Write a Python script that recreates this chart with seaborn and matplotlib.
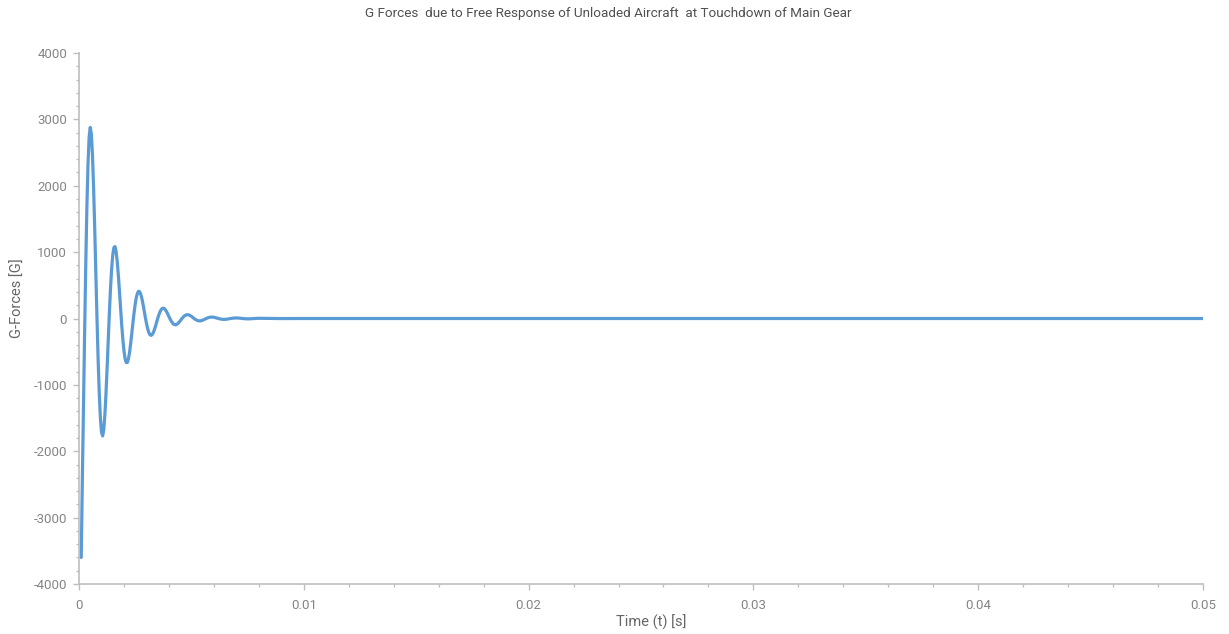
import numpy as np
import pandas as pd
import matplotlib
matplotlib.use("Agg")
import matplotlib.pyplot as plt
from matplotlib.ticker import MultipleLocator, FuncFormatter
import seaborn as sns

# Sample times [s]: a fine grid through the main oscillations, coarser afterwards
t_fine = np.round(np.linspace(0.0001, 0.0040, 79), 6)
t_mid = np.round(np.linspace(0.0041, 0.0080, 40), 6)
t_tail = [0.009, 0.01, 0.02, 0.03, 0.04, 0.05]

# G forces at those times
g_fine = [-3600, -2400, -1319, -222, 799, 1666, 2322, 2730, 2879, 2778,
          2457, 1962, 1348, 675, 5, -607, -1117, -1491, -1711, -1770,
          -1679, -1458, -1136, -748, -331, 76, 442, 741, 952, 1067,
          1085, 1012, 861, 653, 409, 153, -95, -313, -486, -605,
          -664, -663, -607, -507, -373, -220, -62, 87, 216, 317,
          382, 411, 403, 363, 297, 211, 116, 19, -71, -147,
          -205, -241, -254, -245, -216, -173, -119, -59, 0, 54,
          98, 131, 151, 156, 148, 128, 100, 66, 29]
g_mid = [-39, -84, -96, -76, -36, 8, 43, 58, 53, 33,
         5, -19, -34, -36, -26, -10, 6, 18, 22, 19,
         10, 0, -9, -13, -13, -9, -3, 3, 7, 8,
         7, 3, -1, -4, -5, -5, -3, 0, 2, 3]
g_tail = [-1, 0, 0, 0, 0, 0]

x_ticks = [0, 0.01, 0.02, 0.03, 0.04, 0.05]
y_ticks = [-4000, -3000, -2000, -1000, 0, 1000, 2000, 3000, 4000]

title = "G Forces  due to Free Response of Unloaded Aircraft  at Touchdown of Main Gear"
x_label = "Time (t) [s]"
y_label = "G-Forces [G]"

df = pd.DataFrame({
    "time": np.concatenate([t_fine, t_mid, t_tail]),
    "g": np.concatenate([g_fine, g_mid, g_tail]),
})

sns.set_theme(style="ticks")
plt.rcParams["font.family"] = ["Roboto", "DejaVu Sans"]
plt.rcParams["axes.unicode_minus"] = False

W, H = 1229, 634
fig = plt.figure(figsize=(W / 100, H / 100), dpi=100)
ax = fig.add_axes([79 / W, 1 - 584 / H, (1203 - 79) / W, (584 - 53) / H])

line_color = "#5B9BD5"
tick_gray = "#858585"
label_gray = "#666666"
axis_gray = "#bdbdbd"

sns.lineplot(data=df, x="time", y="g", ax=ax, color=line_color,
             linewidth=2.3, sort=False, estimator=None)

ax.set_xlim(0, 0.05)
ax.set_ylim(-4000, 4000)
ax.set_xticks(x_ticks)
ax.set_yticks(y_ticks)
ax.xaxis.set_minor_locator(MultipleLocator(0.002))
ax.yaxis.set_minor_locator(MultipleLocator(200))
fmt = FuncFormatter(lambda v, _: f"{v:g}")
ax.xaxis.set_major_formatter(fmt)
ax.yaxis.set_major_formatter(fmt)

for side in ("top", "right"):
    ax.spines[side].set_visible(False)
for side in ("left", "bottom"):
    ax.spines[side].set_color(axis_gray)
    ax.spines[side].set_linewidth(1.2)

ax.tick_params(axis="both", which="major", length=4.5, width=1.0,
               color=axis_gray, labelcolor=tick_gray, labelsize=9.5)
ax.tick_params(axis="both", which="minor", length=2.5, width=0.9,
               color=axis_gray)
ax.tick_params(axis="y", which="major", pad=4)
ax.tick_params(axis="x", which="major", pad=6)

ax.set_xlabel(x_label, color=label_gray, fontsize=10.5)
ax.set_ylabel(y_label, color=label_gray, fontsize=10.5)
ax.xaxis.set_label_coords((651 - 79) / 1124, -(622 - 584) / 531)
ax.xaxis.label.set_va("center")
ax.yaxis.set_label_coords(-(79 - 18) / 1124, (584 - 298) / 531)
ax.yaxis.label.set_va("center")

fig.text(608 / W, 1 - 14 / H, title, ha="center", va="center",
         color="#505050", fontsize=9.7)

fig.savefig("out.png", dpi=100)
